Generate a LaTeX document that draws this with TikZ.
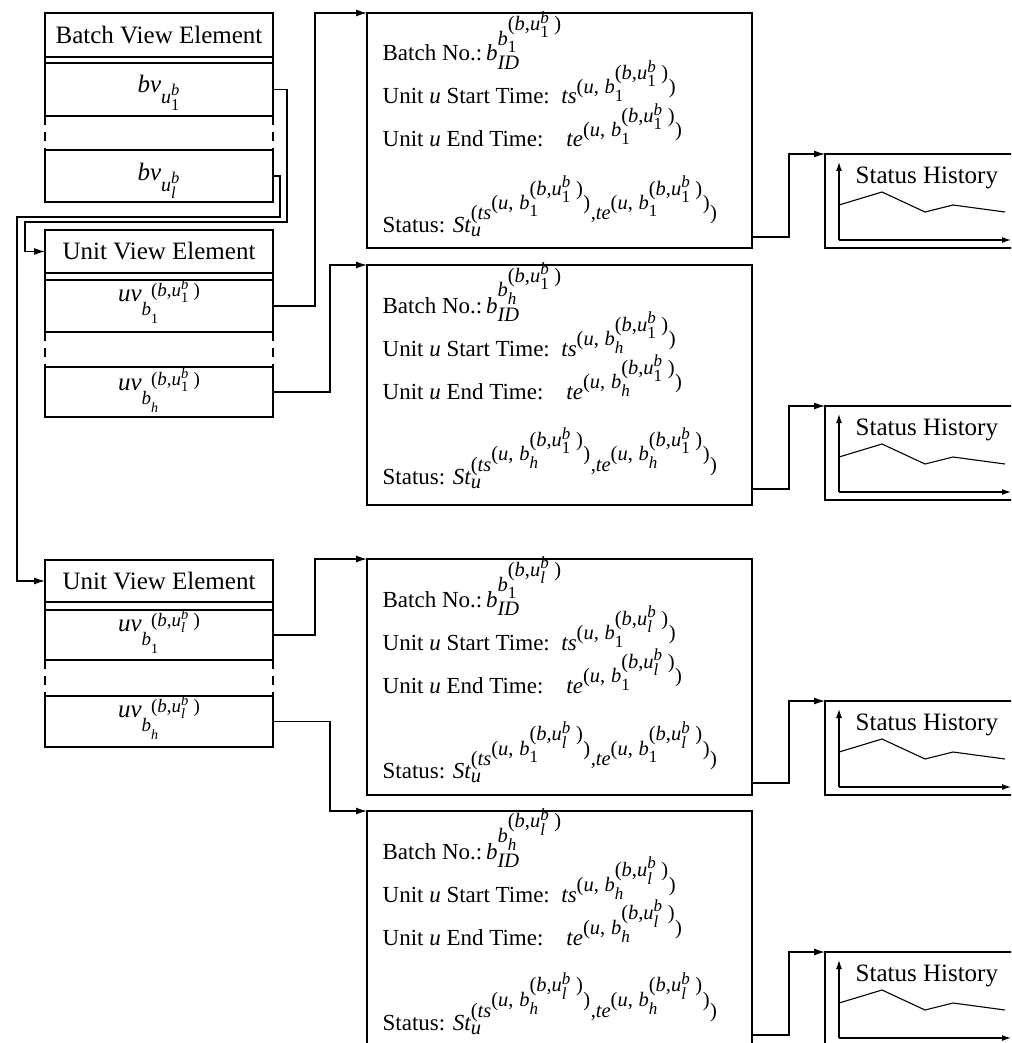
\documentclass[tikz,border=0pt]{standalone}
\usepackage{amsmath}
\usepackage{fontspec}
\setmainfont{Liberation Serif}
\usetikzlibrary{arrows.meta,calc}

% larger script sizes for the nested indices
\DeclareMathSizes{23}{23}{20.5}{17}
\DeclareMathSizes{25}{25}{20}{16.5}
\DeclareMathSizes{19}{19}{14.5}{12}

% italic / upright pieces of the formulas
\newcommand\itx[1]{\textit{#1}}
\newcommand\upx[1]{\textup{#1}}
\newcommand\fsz[1]{\fontsize{#1}{#1}\selectfont}
% u^b_k
\newcommand\ubk[1]{\itx{u}^{\itx{b}}_{#1}}
% b_j^{(b,u^b_k)}
\newcommand\bjk[2]{\itx{b}^{\scriptstyle\upx{(}\itx{b}\upx{,}\ubk{#2}\upx{\ )}}_{#1}}
% ts/te^{(u, b_j^{(b,u^b_k)})}
\newcommand\tpair[3]{\itx{#1}^{\scriptstyle\upx{(}\itx{u}\upx{,}\ \bjk{#2}{#3}\upx{)}}}
% uv_{b_j^{(b,u^b_k)}}, with the indices placed by hand
\newcommand\uvjk[2]{\itx{uv}%
  \raisebox{-14pt}{\fsz{19}\itx{b}}%
  \rlap{\raisebox{-22pt}{\fsz{14}#1}}%
  \raisebox{5pt}{\fsz{19}\upx{(}\itx{b}\upx{,}$\ubk{#2}$\upx{\ )}}}

\newcommand\bigfont{\fontsize{25}{30}\selectfont}
\newcommand\midfont{\fontsize{23}{28}\selectfont}

% record box of one batch in one unit: name, top, bottom, batch index, unit index
\newcommand\detailbox[5]{%
  \node[detail, minimum height={#3-#2}] (#1) at (559.5,{(#2+#3)/2}) {};
  \node[entry] (#1-batch) at (382,#2+48) {Batch No.:\,$\itx{b}^{\bjk{#4}{#5}}_{\itx{ID}}$};
  \node[entry] (#1-start) at (382,#2+91) {Unit \itx{u} Start Time:\ \ $\tpair{ts}{#4}{#5}$};
  \node[entry] (#1-end) at (382,#2+134) {Unit \itx{u} End Time:\ \ \ \ $\tpair{te}{#4}{#5}$};
  \node[entry] (#1-status) at (382,#2+219) {Status: $\itx{St}^{\upx{(}\tpair{ts}{#4}{#5}\upx{,}\tpair{te}{#4}{#5}\upx{)}}_{\itx{u}}$};
  \coordinate (#1-out) at ($(#1.east |- #1-status.base)+(0,-5pt)$);
}

% status history chart: name, top
\newcommand\histbox[2]{%
  \node[hist] (#1) at (932.5,#2+47) {};
  \coordinate (#1-origin) at (839,#2+86);
  \draw[axis] (#1-origin) -- (839,#2+8);
  \draw[axis] (#1-origin) -- (1011,#2+86);
  \draw[trend] (839,#2+51) -- (882,#2+38) -- (925,#2+58) -- (953,#2+51) -- (1005,#2+58);
  \node[anchor=base west, inner sep=0pt, font=\bigfont] (#1-title) at (855,#2+29) {Status History};
}

\begin{document}
\begin{tikzpicture}[
  x=1pt, y=-1pt, line width=1.3pt,
  cell/.style={draw, minimum width=228pt, inner sep=0pt, outer sep=0pt, font=\bigfont},
  tag/.style={anchor=base, inner sep=0pt, font=\bigfont},
  detail/.style={draw, minimum width=385pt, inner sep=0pt, outer sep=0pt},
  hist/.style={draw, minimum width=215pt, minimum height=94pt, inner sep=0pt, outer sep=0pt},
  entry/.style={anchor=base west, inner sep=0pt, font=\midfont},
  link/.style={-{Latex[length=11pt,width=7pt]}},
  axis/.style={line width=1.2pt, -{Latex[length=9pt,width=6pt]}},
  trend/.style={line width=1.1pt},
  gapline/.style={dash pattern=on 9pt off 7pt},
]
\useasboundingbox (0,0) rectangle (1011,1043);
\clip (0,0) rectangle (1011,1043);

% batch view element
\node[cell, minimum height=44pt] (bve) at (159,35) {Batch View Element};
\node[cell, minimum height=53pt] (bv1) at (159,89.5) {};
\node[cell, minimum height=52pt] (bvl) at (159,176) {};
\node[tag] (bv1-t) at (159,93) {$\itx{bv}_{\ubk{\upx{1}}}$};
\node[tag] (bvl-t) at (159,181) {$\itx{bv}_{\ubk{\itx{l}}}$};
\draw (bve.south west) -- (bv1.north west) (bve.south east) -- (bv1.north east);
\draw[gapline] (bv1.south west) -- (bvl.north west) (bv1.south east) -- (bvl.north east);

% unit view element for u^b_1
\node[cell, minimum height=43pt] (uve1) at (159,251.5) {Unit View Element};
\node[cell, minimum height=52pt] (uv11) at (159,306) {};
\node[cell, minimum height=50pt] (uv1h) at (159,392) {};
\node[tag] (uv11-t) at (159,301) {\uvjk{\upx{1}}{\upx{1}}};
\node[tag] (uv1h-t) at (159,390) {\uvjk{\itx{h}}{\upx{1}}};
\draw (uve1.south west) -- (uv11.north west) (uve1.south east) -- (uv11.north east);
\draw[gapline] (uv11.south west) -- (uv1h.north west) (uv11.south east) -- (uv1h.north east);

% unit view element for u^b_l
\node[cell, minimum height=42pt] (uve2) at (159,581) {Unit View Element};
\node[cell, minimum height=50pt] (uv21) at (159,635) {};
\node[cell, minimum height=51pt] (uv2h) at (159,721.5) {};
\node[tag] (uv21-t) at (159,631) {\uvjk{\upx{1}}{\itx{l}}};
\node[tag] (uv2h-t) at (159,717) {\uvjk{\itx{h}}{\itx{l}}};
\draw (uve2.south west) -- (uv21.north west) (uve2.south east) -- (uv21.north east);
\draw[gapline] (uv21.south west) -- (uv2h.north west) (uv21.south east) -- (uv2h.north east);

% record boxes
\detailbox{d1}{13}{248}{\upx{1}}{\upx{1}}
\detailbox{d2}{265}{505}{\itx{h}}{\upx{1}}
\detailbox{d3}{559}{795}{\upx{1}}{\itx{l}}
\detailbox{d4}{811}{1060}{\itx{h}}{\itx{l}}

% status history charts
\histbox{s1}{154}
\histbox{s2}{406}
\histbox{s3}{701}
\histbox{s4}{952}

% batch view -> unit views
\coordinate (bend1) at (287,222);
\coordinate (bend2) at (280,217);
\draw[link] (bv1.east) -| (bend1) -| ([xshift=-20pt]uve1.west) -- (uve1.west);
\draw[link] (bvl.east) -| (bend2) -| ([xshift=-28pt]uve2.west) -- (uve2.west);

% unit views -> records
\draw[link] (uv11.east) -| ([xshift=-52pt]d1.north west) -- (d1.north west);
\draw[link] (uv1h.east) -| ([xshift=-37pt]d2.north west) -- (d2.north west);
\draw[link] (uv21.east) -| ([xshift=-52pt]d3.north west) -- (d3.north west);
\draw[link] (uv2h.east) -| ([xshift=-37pt]d4.north west) -- (d4.north west);

% records -> status histories
\draw[link] (d1-out) -| ([xshift=-36pt]s1.north west) -- (s1.north west);
\draw[link] (d2-out) -| ([xshift=-36pt]s2.north west) -- (s2.north west);
\draw[link] (d3-out) -| ([xshift=-36pt]s3.north west) -- (s3.north west);
\draw[link] (d4-out) -| ([xshift=-36pt]s4.north west) -- (s4.north west);
\end{tikzpicture}
\end{document}
